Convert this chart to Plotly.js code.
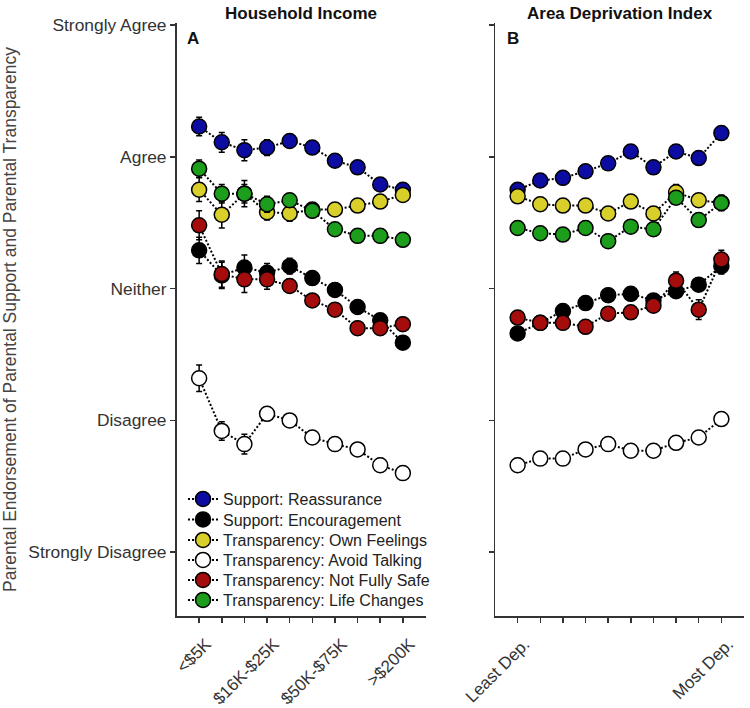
<!DOCTYPE html>
<html>
<head>
<meta charset="utf-8">
<script src="https://cdn.plot.ly/plotly-3.0.1.min.js"></script>
<style>html,body{margin:0;padding:0;background:#fff;}#chart{width:750px;height:708px;}</style>
</head>
<body>
<div id="chart"></div>
<script>
// ---------- data ----------
var seriesNames = ["Support: Reassurance", "Support: Encouragement", "Transparency: Own Feelings",
  "Transparency: Avoid Talking", "Transparency: Not Fully Safe", "Transparency: Life Changes"];
var seriesColors = ["#0c0ca3", "#000000", "#d9cf2b", "#ffffff", "#a50c0c", "#1c9e1c"];

var categoryIndex = [0,1,2,3,4,5,6,7,8,9];
var incomeTickText = ["<$5K", "", "", "$16K-$25K", "", "", "$50K-$75K", "", "", ">$200K"];
var adiTickText = ["Least Dep.", "", "", "", "", "", "", "", "", "Most Dep."];

var yTickVals = [1,2,3,4,5];
var yTickText = ["Strongly Disagree", "Disagree", "Neither", "Agree", "Strongly Agree"];

// Household income panel (A)
var incReassurance   = [4.23, 4.11, 4.05, 4.07, 4.12, 4.07, 3.97, 3.92, 3.79, 3.75];
var incEncouragement = [3.29, 3.10, 3.16, 3.12, 3.17, 3.08, 2.99, 2.86, 2.76, 2.59];
var incOwnFeelings   = [3.75, 3.56, 3.72, 3.58, 3.57, 3.60, 3.60, 3.63, 3.66, 3.71];
var incAvoidTalking  = [2.32, 1.92, 1.82, 2.05, 2.00, 1.87, 1.82, 1.78, 1.66, 1.60];
var incNotFullySafe  = [3.48, 3.11, 3.07, 3.07, 3.02, 2.91, 2.84, 2.70, 2.70, 2.73];
var incLifeChanges   = [3.91, 3.72, 3.72, 3.64, 3.67, 3.59, 3.45, 3.40, 3.40, 3.37];

var incErrReassurance   = [0.07, 0.075, 0.08, 0.06, 0.05, 0.05, 0.05, 0.05, 0.05, 0.05];
var incErrEncouragement = [0.10, 0.10, 0.095, 0.07, 0.06, 0.05, 0.05, 0.05, 0.05, 0.05];
var incErrOwnFeelings   = [0.09, 0.10, 0.10, 0.06, 0.06, 0.05, 0.05, 0.05, 0.05, 0.05];
var incErrAvoidTalking  = [0.10, 0.07, 0.075, 0.05, 0.05, 0.05, 0.05, 0.05, 0.05, 0.05];
var incErrNotFullySafe  = [0.11, 0.10, 0.10, 0.075, 0.05, 0.05, 0.05, 0.05, 0.05, 0.05];
var incErrLifeChanges   = [0.065, 0.07, 0.07, 0.06, 0.05, 0.05, 0.05, 0.05, 0.05, 0.05];

// Area deprivation index panel (B)
var adiReassurance   = [3.75, 3.82, 3.84, 3.89, 3.95, 4.04, 3.92, 4.04, 3.99, 4.18];
var adiEncouragement = [2.66, 2.74, 2.83, 2.89, 2.95, 2.96, 2.91, 2.98, 3.03, 3.17];
var adiOwnFeelings   = [3.70, 3.64, 3.63, 3.63, 3.57, 3.66, 3.57, 3.73, 3.67, 3.65];
var adiAvoidTalking  = [1.66, 1.71, 1.71, 1.78, 1.82, 1.77, 1.77, 1.83, 1.87, 2.01];
var adiNotFullySafe  = [2.78, 2.74, 2.74, 2.71, 2.81, 2.82, 2.87, 3.06, 2.84, 3.22];
var adiLifeChanges   = [3.46, 3.42, 3.41, 3.46, 3.36, 3.47, 3.45, 3.69, 3.52, 3.65];

var adiErrReassurance   = [0.05, 0.05, 0.05, 0.05, 0.05, 0.05, 0.05, 0.05, 0.05, 0.05];
var adiErrEncouragement = [0.05, 0.05, 0.05, 0.05, 0.05, 0.05, 0.05, 0.05, 0.05, 0.06];
var adiErrOwnFeelings   = [0.05, 0.05, 0.05, 0.05, 0.05, 0.05, 0.05, 0.06, 0.05, 0.05];
var adiErrAvoidTalking  = [0.05, 0.05, 0.05, 0.05, 0.05, 0.05, 0.05, 0.05, 0.05, 0.05];
var adiErrNotFullySafe  = [0.05, 0.05, 0.05, 0.05, 0.05, 0.05, 0.05, 0.065, 0.075, 0.07];
var adiErrLifeChanges   = [0.05, 0.05, 0.05, 0.05, 0.05, 0.05, 0.05, 0.05, 0.05, 0.06];

var incomeSeries = [incReassurance, incEncouragement, incOwnFeelings, incAvoidTalking, incNotFullySafe, incLifeChanges];
var incomeErrors = [incErrReassurance, incErrEncouragement, incErrOwnFeelings, incErrAvoidTalking, incErrNotFullySafe, incErrLifeChanges];
var adiSeries = [adiReassurance, adiEncouragement, adiOwnFeelings, adiAvoidTalking, adiNotFullySafe, adiLifeChanges];
var adiErrors = [adiErrReassurance, adiErrEncouragement, adiErrOwnFeelings, adiErrAvoidTalking, adiErrNotFullySafe, adiErrLifeChanges];

// ---------- build ----------
var FONT = "Liberation Sans, Arial, Helvetica, sans-serif";
var W = 750, H = 708;
function px(x) { return x / W; }
function py(y) { return 1 - y / H; }

var legendIds = ["legend", "legend2", "legend3", "legend4", "legend5", "legend6"];
var legendRowY = [499, 519.5, 540, 560, 580, 600];

function makeTrace(i, ys, errs, xa, ya, showLegend) {
  return {
    type: "scatter", mode: "lines+markers",
    x: categoryIndex, y: ys,
    xaxis: xa, yaxis: ya,
    name: seriesNames[i],
    legend: legendIds[i],
    legendgroup: "g" + i,
    showlegend: showLegend,
    line: {color: "#000", width: 2, dash: "2px,2px"},
    marker: {size: 15, color: seriesColors[i], line: {color: "#000", width: 1.5}},
    error_y: {type: "data", array: errs, visible: true, color: "#000", thickness: 1.5, width: 3},
    hoverinfo: "skip"
  };
}
var traces = [];
for (var i = 0; i < seriesNames.length; i++) traces.push(makeTrace(i, incomeSeries[i], incomeErrors[i], "x", "y", true));
for (var j = 0; j < seriesNames.length; j++) traces.push(makeTrace(j, adiSeries[j], adiErrors[j], "x2", "y2", false));

var axisCommon = {
  showline: true, linecolor: "#333", linewidth: 1.5,
  ticks: "outside", ticklen: 5, tickwidth: 1.5, tickcolor: "#333",
  showgrid: false, zeroline: false, fixedrange: true
};
var yRange = [0.516, 5.015];
var xRange = [-1, 10];
var xTickFont = {family: FONT, size: 17, color: "#333"};

var layout = {
  width: W, height: H,
  margin: {l: 0, r: 0, t: 0, b: 0},
  paper_bgcolor: "#fff", plot_bgcolor: "#fff",
  font: {family: FONT, color: "#333", size: 17},
  showlegend: true,
  xaxis: Object.assign({}, axisCommon, {
    domain: [px(176.5), px(425.5)], range: xRange, anchor: "y",
    tickvals: categoryIndex, ticktext: incomeTickText, tickangle: -45,
    ticklabelshift: 7, ticklabelstandoff: 5, tickfont: xTickFont
  }),
  yaxis: Object.assign({}, axisCommon, {
    domain: [py(616), py(23)], range: yRange, anchor: "x",
    tickvals: yTickVals, ticktext: yTickText,
    tickfont: {family: FONT, size: 17.4, color: "#333"},
    title: {text: "Parental Endorsement of Parental Support and Parental Transparency",
            font: {family: FONT, size: 17.5, color: "#444"}, standoff: 8}
  }),
  xaxis2: Object.assign({}, axisCommon, {
    domain: [px(495), px(744)], range: xRange, anchor: "y2",
    tickvals: categoryIndex, ticktext: adiTickText, tickangle: -45,
    ticklabelshift: 7, ticklabelstandoff: 5, tickfont: xTickFont
  }),
  yaxis2: Object.assign({}, axisCommon, {
    domain: [py(616), py(23)], range: yRange, anchor: "x2",
    tickvals: yTickVals, showticklabels: false
  }),
  annotations: [
    {text: "<b>Household Income</b>", xref: "paper", yref: "paper", x: px(301), y: py(14),
     xanchor: "center", yanchor: "middle", showarrow: false, font: {family: FONT, size: 17, color: "#111"}},
    {text: "<b>Area Deprivation Index</b>", xref: "paper", yref: "paper", x: px(620), y: py(14),
     xanchor: "center", yanchor: "middle", showarrow: false, font: {family: FONT, size: 17, color: "#111"}},
    {text: "<b>A</b>", xref: "paper", yref: "paper", x: px(192.5), y: py(39),
     xanchor: "center", yanchor: "middle", showarrow: false, font: {family: FONT, size: 17, color: "#111"}},
    {text: "<b>B</b>", xref: "paper", yref: "paper", x: px(513), y: py(39),
     xanchor: "center", yanchor: "middle", showarrow: false, font: {family: FONT, size: 17, color: "#111"}}
  ]
};
for (var k = 0; k < legendIds.length; k++) {
  layout[legendIds[k]] = {
    x: px(183), y: py(legendRowY[k]), xanchor: "left", yanchor: "middle",
    bgcolor: "rgba(0,0,0,0)", borderwidth: 0,
    font: {family: FONT, size: 16, color: "#222"},
    itemclick: false, itemdoubleclick: false
  };
}

Plotly.newPlot("chart", traces, layout, {displayModeBar: false, staticPlot: true});
</script>
</body>
</html>
